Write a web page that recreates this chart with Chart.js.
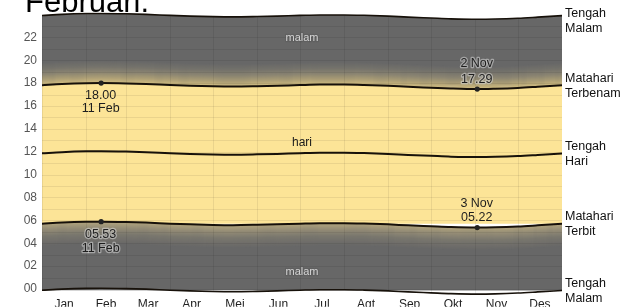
<!DOCTYPE html>
<html><head><meta charset="utf-8">
<script src="https://cdn.jsdelivr.net/npm/chart.js@4"></script>
<style>
html,body{margin:0;padding:0;background:#fff;overflow:hidden}
#wrap{position:relative;width:641px;height:308px}
#title{position:absolute;left:25px;top:-14px;font:31px/31px "Liberation Sans",Arial,sans-serif;color:#000;white-space:nowrap;z-index:2}
canvas{position:absolute;left:0;top:0}
</style></head>
<body>
<div id="wrap"><div id="title">Februari.</div><canvas id="c" width="641" height="308"></canvas></div>
<script>
// ---- data (hours of day) ----
const months = ['Jan','Feb','Mar','Apr','Mei','Jun','Jul','Agt','Sep','Okt','Nov','Des'];
const monthMid = [15.5,45,74.5,105,135.5,166,196.5,227.5,258,288.5,319,349.5];
const monthStart = [0,31,59,90,120,151,181,212,243,273,304,334,365];
const hourTicks = [0,2,4,6,8,10,12,14,16,18,20,22];
const days = [0,14,31,41.5,59,73,90,104,120,134,151,165,181,195,212,226,243,257,273,287,305.5,318,334,348,365];
const midnightBottom = [-0.12,-0.02,0.05,0.06,0.03,-0.02,-0.11,-0.17,-0.22,-0.24,-0.21,-0.17,-0.11,-0.07,-0.07,-0.10,-0.17,-0.26,-0.34,-0.41,-0.45,-0.43,-0.36,-0.26,-0.13];
const sunrise = [5.70,5.80,5.87,5.88,5.85,5.80,5.71,5.65,5.60,5.58,5.61,5.65,5.71,5.75,5.75,5.72,5.65,5.56,5.48,5.41,5.37,5.39,5.46,5.56,5.69];
const noon = [11.86,11.96,12.03,12.04,12.01,11.96,11.87,11.81,11.76,11.74,11.77,11.81,11.87,11.91,11.91,11.88,11.81,11.72,11.64,11.57,11.53,11.55,11.62,11.72,11.85];
const sunset = [17.82,17.92,17.99,18.00,17.97,17.92,17.83,17.77,17.72,17.70,17.73,17.77,17.83,17.87,17.87,17.84,17.77,17.68,17.60,17.53,17.48,17.51,17.58,17.68,17.81];
const midnightTop = [23.91,24.01,24.08,24.09,24.06,24.01,23.92,23.86,23.81,23.79,23.82,23.86,23.92,23.96,23.96,23.93,23.86,23.77,23.69,23.62,23.58,23.60,23.67,23.77,23.90];
const noteDays = [41.5, 305.5];
const sunsetNotes = [['18.00','11 Feb'],['2 Nov','17.29']];
const sunriseNotes = [['05.53','11 Feb'],['3 Nov','05.22']];
const rightLabels = [['Tengah','Malam'],['Matahari','Terbenam'],['Tengah','Hari'],['Matahari','Terbit'],['Tengah','Malam']];
const areaLabels = ['malam','hari','malam'];
const areaLabelDay = 182.5;
const areaLabelHour = [21.72, 12.51, 1.25];

// ---- styling ----
const FONT = '"Liberation Sans", Arial, sans-serif';
Chart.defaults.font.family = FONT;
const GREY = 'rgb(103,103,103)';
const YELLOW = 'rgb(252,228,151)';
const LINE = '#17110a';
const duskStops = [[0,[205,186,128]],[0.2,[174,160,118]],[0.45,[140,134,114]],[0.7,[118,116,108]],[1,[103,103,103]]];
const dawnStops = [[0,[175,162,125]],[0.25,[148,140,118]],[0.55,[122,119,110]],[1,[103,103,103]]];
function twColor(stops,t){
  for(let i=1;i<stops.length;i++){
    if(t<=stops[i][0]){
      const [t0,c0]=stops[i-1],[t1,c1]=stops[i];
      const f=(t-t0)/(t1-t0);
      return 'rgb('+c0.map((v,j)=>Math.round(v+(c1[j]-v)*f)).join(',')+')';
    }
  }
  return GREY;
}
const pts = arr => arr.map((v,i)=>({x:days[i],y:v}));
const markRadius = c => noteDays.includes(days[c.dataIndex]) ? 2.6 : 0;
const I_NOON=0, I_BOT=1, I_RISE=2, I_SET=3, I_TOP=4;

function linePath(chart, i, ctx){
  const meta = chart.getDatasetMeta(i);
  if (meta.dataset && typeof meta.dataset.path === 'function') { meta.dataset.path(ctx); return; }
  meta.data.forEach((p,k)=> k? ctx.lineTo(p.x,p.y) : ctx.moveTo(p.x,p.y));
}

const bandPlugin = {
  id:'band',
  beforeDatasetsDraw(chart){
    const ctx = chart.ctx, a = chart.chartArea;
    ctx.save();
    ctx.beginPath(); ctx.rect(a.left,a.top,a.right-a.left,a.bottom-a.top); ctx.clip();
    const G = 22;
    for(let k=G-1;k>=0;k--){
      [[I_SET,-1,duskStops],[I_RISE,1,dawnStops]].forEach(([i,s,st])=>{
        ctx.save(); ctx.translate(0,s*(k+0.5));
        ctx.beginPath(); linePath(chart,i,ctx);
        ctx.strokeStyle=twColor(st,k/G); ctx.lineWidth=1.5; ctx.stroke(); ctx.restore();
      });
    }
    ctx.beginPath(); linePath(chart,I_TOP,ctx); ctx.lineTo(a.right,a.bottom); ctx.lineTo(a.left,a.bottom); ctx.closePath(); ctx.clip();
    ctx.beginPath(); linePath(chart,I_BOT,ctx); ctx.lineTo(a.right,a.top); ctx.lineTo(a.left,a.top); ctx.closePath(); ctx.clip();
    const xs = chart.scales.x, ys = chart.scales.y;
    ctx.strokeStyle='rgba(0,0,0,0.07)'; ctx.lineWidth=1;
    ctx.beginPath();
    monthStart.forEach(d=>{ const x=Math.round(xs.getPixelForValue(d))+0.5; ctx.moveTo(x,a.top); ctx.lineTo(x,a.bottom); });
    for(let h=0;h<24;h++){ const y=Math.round(ys.getPixelForValue(h))+0.5; ctx.moveTo(a.left,y); ctx.lineTo(a.right,y); }
    ctx.stroke();
    ctx.restore();
  },
  afterDatasetsDraw(chart){
    const ctx = chart.ctx, a = chart.chartArea, xs = chart.scales.x, ys = chart.scales.y;
    ctx.save();
    ctx.textAlign='center'; ctx.textBaseline='alphabetic';
    function txt(s,x,y,color,halo){
      if(halo){ ctx.strokeStyle=halo; ctx.lineWidth=2.5; ctx.lineJoin='round'; ctx.strokeText(s,x,y); }
      ctx.fillStyle=color; ctx.fillText(s,x,y);
    }
    ctx.font = '12.5px '+FONT;
    const ssOff = [[16,29],[-22.5,-6]], srOff = [[16,30],[-20.5,-7]];
    const ssHalo = [null,'rgba(225,225,225,0.5)'], srHalo = ['rgba(225,225,225,0.5)',null];
    noteDays.forEach((d,n)=>{
      const i = days.indexOf(d);
      const x = xs.getPixelForValue(d) - 0.5;
      const y1 = ys.getPixelForValue(sunset[i]);
      sunsetNotes[n].forEach((s,k)=>txt(s,x,y1+ssOff[n][k],'#1e1e1e',ssHalo[n]));
      const y2 = ys.getPixelForValue(sunrise[i]);
      sunriseNotes[n].forEach((s,k)=>txt(s,x,y2+srOff[n][k],'#1e1e1e',srHalo[n]));
    });
    areaLabels.forEach((s,k)=>{
      const x = xs.getPixelForValue(areaLabelDay), y = ys.getPixelForValue(areaLabelHour[k]);
      if(s==='hari'){ ctx.font='12px '+FONT; txt(s,x,y,'#1a1a1a',null); }
      else { ctx.font='11px '+FONT; txt(s,x,y,'#d4d4d4','rgba(80,80,80,0.3)'); }
    });
    ctx.textAlign='left'; ctx.textBaseline='middle'; ctx.font='12.5px '+FONT; ctx.fillStyle='#111';
    const ends = [midnightTop,sunset,noon,sunrise,midnightBottom].map(arr=>arr[arr.length-1]);
    ends.forEach((v,k)=>{
      let c = ys.getPixelForValue(v);
      c = Math.max(c, 21);
      ctx.fillText(rightLabels[k][0], a.right+3, c-7);
      ctx.fillText(rightLabels[k][1], a.right+3, c+8);
    });
    ctx.restore();
  }
};

new Chart(document.getElementById('c'), {
  type:'line',
  data:{ datasets:[
    {data:pts(noon), borderColor:LINE, borderWidth:2, pointRadius:0, fill:false},
    {data:pts(midnightBottom), borderColor:LINE, borderWidth:1.6, pointRadius:0, fill:false},
    {data:pts(sunrise), borderColor:LINE, borderWidth:2, pointRadius:markRadius, pointBackgroundColor:'#222', pointBorderWidth:0, fill:{target:I_BOT}, backgroundColor:GREY},
    {data:pts(sunset), borderColor:LINE, borderWidth:2, pointRadius:markRadius, pointBackgroundColor:'#222', pointBorderWidth:0, fill:{target:I_RISE}, backgroundColor:YELLOW},
    {data:pts(midnightTop), borderColor:LINE, borderWidth:1.6, pointRadius:0, fill:{target:I_SET}, backgroundColor:GREY}
  ]},
  options:{
    responsive:false, animation:false, devicePixelRatio:1,
    elements:{line:{cubicInterpolationMode:'monotone'}},
    layout:{padding:{left:0,right:79,top:9.5,bottom:0}},
    plugins:{legend:{display:false}, tooltip:{enabled:false}, filler:{drawTime:'beforeDraw'}},
    scales:{
      x:{type:'linear', min:0, max:365,
        grid:{display:false, drawTicks:false}, border:{display:false},
        afterBuildTicks:s=>{ s.ticks = monthMid.map(v=>({value:v})); },
        afterFit:s=>{ s.height = 11; },
        ticks:{autoSkip:false, maxRotation:0, padding:2, color:'#222', font:{size:12},
          callback:(v)=>months[monthMid.indexOf(v)] }},
      y:{type:'linear', min:-0.6, max:24.2,
        grid:{display:false, drawTicks:false}, border:{display:false},
        afterBuildTicks:s=>{ s.ticks = hourTicks.map(v=>({value:v})); },
        afterFit:s=>{ s.width = 42; },
        ticks:{padding:5, color:'#555', font:{size:12},
          callback:(v)=>String(v).padStart(2,'0') }}
    }
  },
  plugins:[bandPlugin]
});
</script>
</body></html>
